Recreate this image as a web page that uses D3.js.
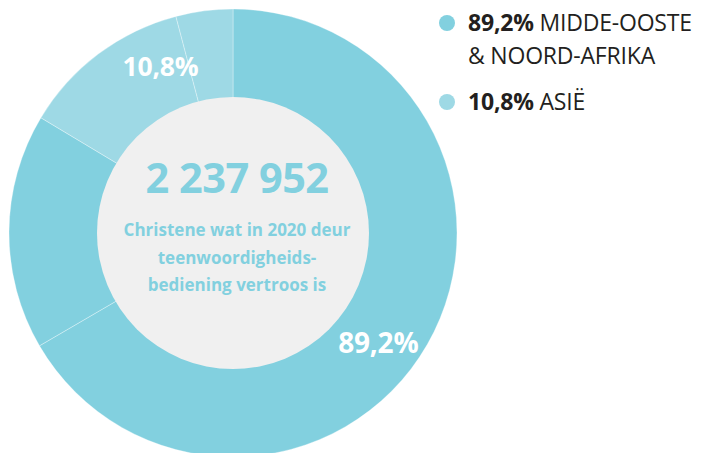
<!DOCTYPE html>
<html>
<head>
<meta charset="utf-8">
<script src="https://cdn.jsdelivr.net/npm/d3@7"></script>
<style>
  body { margin: 0; background: #ffffff; }
  svg { display: block; }
</style>
</head>
<body>
<script>
// arc segments as they appear on the ring (share of the circle, %)
var segValues = [66.6, 17.0, 12.3, 4.1];
var segGroups = ["mena", "mena", "asia", "asia"];

// groups shown in the legend
var groupKeys = ["mena", "asia"];
var groupPct = ["89,2%", "10,8%"];
var groupNames = [["MIDDE-OOSTE", "& NOORD-AFRIKA"], ["ASIË"]];
var groupColours = {mena: "#82d0df", asia: "#9ed9e5"};

// where the big percentage labels sit (degrees clockwise from top)
var labelAngles = {mena: 127, asia: 336.5};

var totalText = "2 237 952";
var subText = ["Christene wat in 2020 deur", "teenwoordigheids-", "bediening vertroos is"];

var width = 710;
var height = 453;
var cx = 233, cy = 233;
var rOuter = 224, rInner = 136;

var svg = d3.select("body")
            .append("svg")
            .attr("width", width)
            .attr("height", height);

var g = svg.append("g")
           .attr("transform", "translate(" + cx + "," + cy + ")");

var pie = d3.pie().sort(null).value(function(d){ return d.value; });
var segData = segValues.map(function(v, i){
    return {value: v, group: segGroups[i]};
});

var arc = d3.arc().innerRadius(rInner - 2).outerRadius(rOuter);

// ring segments
g.selectAll("path.seg")
 .data(pie(segData))
 .enter()
 .append("path")
 .attr("class", "seg")
 .attr("d", arc)
 .attr("fill", function(d){ return groupColours[d.data.group]; })
 .attr("stroke", "rgba(255,255,255,0.55)")
 .attr("stroke-width", 0.6);

// grey centre
g.append("circle")
 .attr("r", rInner)
 .attr("fill", "#f0f0f0");

// percentage labels on the ring
var labelArc = d3.arc().innerRadius(182).outerRadius(182);
var labelSize = {mena: 28, asia: 26.5};
groupKeys.forEach(function(k, i){
    var a = labelAngles[k] * Math.PI / 180;
    var p = labelArc.centroid({startAngle: a, endAngle: a});
    g.append("text")
     .attr("x", p[0])
     .attr("y", p[1])
     .attr("dy", "0.36em")
     .attr("text-anchor", "middle")
     .attr("font-family", "'Open Sans', sans-serif")
     .attr("font-weight", 700)
     .attr("font-size", labelSize[k])
     .attr("letter-spacing", -0.2)
     .attr("fill", "#ffffff")
     .text(groupPct[i]);
});

// centre texts
g.append("text")
 .attr("x", 4)
 .attr("y", -40)
 .attr("text-anchor", "middle")
 .attr("font-family", "'Open Sans', sans-serif")
 .attr("font-weight", 700)
 .attr("font-size", 41.5)
 .attr("letter-spacing", -0.5)
 .attr("fill", "#82d0df")
 .text(totalText);

g.selectAll("text.sub")
 .data(subText)
 .enter()
 .append("text")
 .attr("class", "sub")
 .attr("x", 4)
 .attr("y", function(d, i){ return 3 + i * 27.5; })
 .attr("text-anchor", "middle")
 .attr("font-family", "'Open Sans', sans-serif")
 .attr("font-weight", 700)
 .attr("font-size", 17)
 .attr("letter-spacing", 0)
 .attr("fill", "#82d0df")
 .text(function(d){ return d; });

// legend
var legend = svg.append("g").attr("transform", "translate(447,0)");
var legendY = [23, 102];
groupKeys.forEach(function(k, i){
    legend.append("circle")
          .attr("cx", 0)
          .attr("cy", legendY[i])
          .attr("r", 8)
          .attr("fill", groupColours[k]);
    groupNames[i].forEach(function(line, j){
        var t = legend.append("text")
                      .attr("x", 21)
                      .attr("y", legendY[i] + 8 + j * 33)
                      .attr("font-family", "'Open Sans', sans-serif")
                      .attr("font-size", 23)
                      .attr("letter-spacing", -0.2)
                      .attr("fill", "#231f20");
        if (j === 0) {
            t.append("tspan").attr("font-weight", 700).text(groupPct[i] + " ");
        }
        t.append("tspan").text(line);
    });
});
</script>
</body>
</html>
